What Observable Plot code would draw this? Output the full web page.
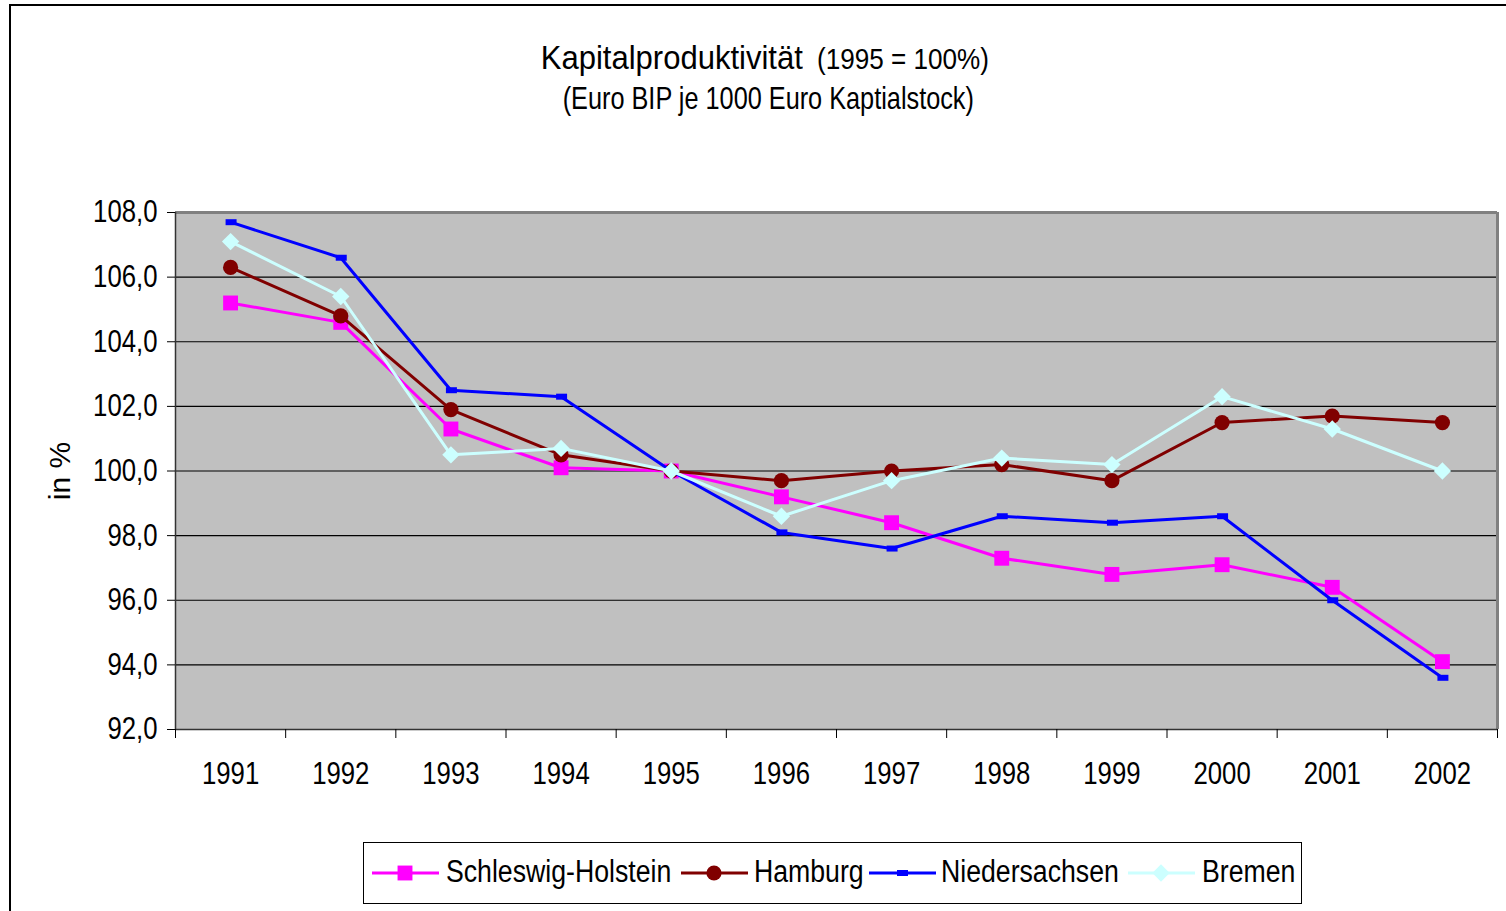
<!DOCTYPE html>
<html>
<head>
<meta charset="utf-8">
<script src="https://cdn.jsdelivr.net/npm/d3@7"></script>
<script src="https://cdn.jsdelivr.net/npm/@observablehq/plot@0.6"></script>
<style>
  html, body { margin: 0; padding: 0; background: #fff; }
  body { font-family: "Liberation Sans", Arial, sans-serif; color: #000; }
  #wrap { position: relative; width: 1506px; height: 911px; overflow: hidden; }
  #frame { position: absolute; left: 9px; top: 4px; width: 1530px; height: 940px; border: 2px solid #000; box-sizing: border-box; pointer-events: none; }
  #titles { position: relative; height: 130px; }
  .t1a { position: absolute; right: 703px; top: 40px; font-size: 33px; line-height: 36px; white-space: nowrap; transform: scaleX(0.94); transform-origin: right center; }
  .t1b { position: absolute; left: 817px; top: 43px; font-size: 29px; line-height: 32px; white-space: nowrap; transform: scaleX(0.9); transform-origin: left center; }
  .t2 { position: absolute; left: 0; width: 1536px; top: 80px; text-align: center; line-height: 36px; white-space: nowrap; }
  .t2 span { display: inline-block; font-size: 32px; transform: scaleX(0.79); transform-origin: center center; }
  #chart svg { display: block; }
  #legend { position: relative; margin-top: 22px; margin-left: 363px; width: 939px; height: 62px; box-sizing: border-box; border: 1.5px solid #000; }
  .key { position: absolute; top: 15px; }
  .lab { position: absolute; top: 11px; font-size: 31px; line-height: 36px; white-space: nowrap; transform: scaleX(0.86); transform-origin: left center; }
</style>
</head>
<body>
<div id="wrap">
  <div id="frame"></div>
  <div id="titles">
    <div class="t1a">Kapitalproduktivität</div>
    <div class="t1b">(1995 = 100%)</div>
    <div class="t2"><span>(Euro BIP je 1000 Euro Kaptialstock)</span></div>
  </div>
  <div id="chart"></div>
  <div id="legend"></div>
</div>
<script>
// ---- data ----
const years = [1991, 1992, 1993, 1994, 1995, 1996, 1997, 1998, 1999, 2000, 2001, 2002];
const seriesNames = ["Schleswig-Holstein", "Hamburg", "Niedersachsen", "Bremen"];
const schleswigHolstein = [105.2, 104.6, 101.3, 100.1, 100.0, 99.2, 98.4, 97.3, 96.8, 97.1, 96.4, 94.1];
const hamburg           = [106.3, 104.8, 101.9, 100.5, 100.0, 99.7, 100.0, 100.2, 99.7, 101.5, 101.7, 101.5];
const niedersachsen     = [107.7, 106.6, 102.5, 102.3, 100.0, 98.1, 97.6, 98.6, 98.4, 98.6, 96.0, 93.6];
const bremen            = [107.1, 105.4, 100.5, 100.7, 100.0, 98.6, 99.7, 100.4, 100.2, 102.3, 101.3, 100.0];
const yTicks = [92, 94, 96, 98, 100, 102, 104, 106, 108];
const yLabel = "in %";

// ---- styling ----
const colors = ["#FF00FF", "#800000", "#0000FF", "#CCFFFF"];
const dashSymbol = { draw(ctx) { ctx.moveTo(-5, -3); ctx.lineTo(6, -3); ctx.lineTo(6, 3); ctx.lineTo(-5, 3); ctx.closePath(); } };
const symbols = ["square", "circle", dashSymbol, "diamond2"];
const radii = [8.4, 7.6, 4, 7.8];

const seriesValues = [schleswigHolstein, hamburg, niedersachsen, bremen];
const data = seriesNames.flatMap((s, i) => years.map((yr, j) => ({ series: s, idx: i, year: yr, value: seriesValues[i][j] })));

// category boundaries for tick marks (Excel-style category axis)
const boundaries = [years[0] - 0.5, ...years.map(y => y + 0.5)];
const fmt = d => d.toFixed(1).replace(".", ",");
const fontFam = '"Liberation Sans", Arial, sans-serif';

const marks = [
  Plot.frame({ fill: "#C0C0C0" }),
  Plot.gridY(yTicks.filter(t => t > yTicks[0] && t < yTicks[yTicks.length - 1]), { stroke: "#000", strokeOpacity: 1, strokeWidth: 1.2 }),
  Plot.ruleY([yTicks[yTicks.length - 1]], { stroke: "#808080", strokeWidth: 3 }),
  Plot.ruleX([boundaries[boundaries.length - 1]], { stroke: "#808080", strokeWidth: 3 }),
  Plot.ruleX([boundaries[0]], { stroke: "#333", strokeWidth: 1.5 }),
  Plot.ruleY([yTicks[0]], { stroke: "#333", strokeWidth: 1.5 }),
  Plot.axisY({ ticks: yTicks, tickSize: 8, tickPadding: 10, tickFormat: fmt, label: null, fontSize: 31 }),
  Plot.axisX({ ticks: boundaries, tickSize: 9, tickFormat: () => "", label: null }),
  Plot.axisX({ ticks: years, tickSize: 0, tickPadding: 32, tickFormat: d => String(d), label: null, fontSize: 31 }),
  Plot.text([yLabel], { frameAnchor: "left", rotate: -90, dx: -115, textAnchor: "middle", fontSize: 30, fill: "#000" })
];
seriesNames.forEach((s, i) => {
  const d = data.filter(r => r.idx === i);
  marks.push(Plot.line(d, { x: "year", y: "value", stroke: colors[i], strokeWidth: 3 }));
  marks.push(Plot.dot(d, { x: "year", y: "value", fill: colors[i], stroke: "none", r: radii[i], symbol: symbols[i] }));
});

const chart = Plot.plot({
  width: 1506,
  height: 690,
  marginLeft: 175,
  marginRight: 9,
  marginTop: 82,
  marginBottom: 91,
  style: { fontFamily: fontFam, fontSize: "30px", color: "#000", background: "transparent", overflow: "visible" },
  x: { type: "linear", domain: [boundaries[0], boundaries[boundaries.length - 1]] },
  y: { domain: [yTicks[0], yTicks[yTicks.length - 1]] },
  marks
});
document.getElementById("chart").appendChild(chart);

// condense tick labels horizontally (reference uses a narrow face)
d3.select(chart).selectAll('g[aria-label$="tick label"] text').each(function () {
  const txt = (this.textContent || "").trim();
  if (!txt) return;
  const len = this.getComputedTextLength();
  if (len > 0) {
    this.setAttribute("textLength", (len * 0.83).toFixed(2));
    this.setAttribute("lengthAdjust", "spacingAndGlyphs");
  }
});

// ---- legend ----
const legend = d3.select("#legend");
const keyLeft = [8, 317, 505, 764];
const labLeft = [82, 390, 577, 838];
seriesNames.forEach((s, i) => {
  const svg = legend.append("svg").attr("class", "key").attr("width", 68).attr("height", 30).style("left", keyLeft[i] + "px");
  svg.append("line").attr("x1", 0).attr("x2", 67).attr("y1", 15).attr("y2", 15).attr("stroke", colors[i]).attr("stroke-width", 3);
  const symType = i === 0 ? d3.symbolSquare : i === 1 ? d3.symbolCircle : i === 3 ? d3.symbolDiamond2 : dashSymbol;
  const size = Math.PI * radii[i] * radii[i];
  svg.append("path").attr("transform", "translate(33,15)").attr("d", d3.symbol(symType, size)()).attr("fill", colors[i]);
  legend.append("div").attr("class", "lab").style("left", labLeft[i] + "px").text(s);
});
</script>
</body>
</html>
